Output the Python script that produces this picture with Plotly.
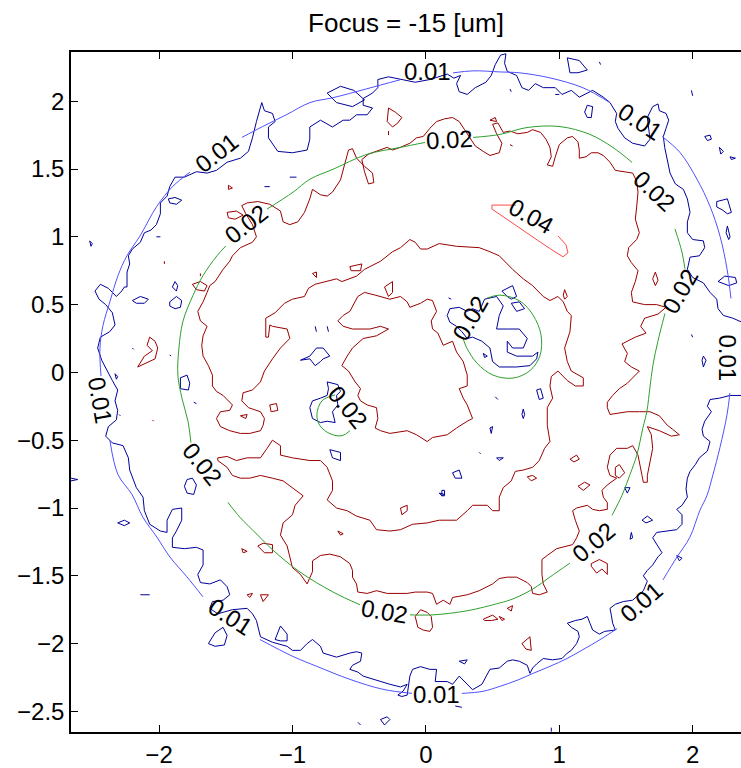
import plotly.graph_objects as go

# ---------------- smooth (fitted) contour levels ----------------
# None entries leave a gap where an inline label sits
c01_x = [0.203, 0.353, 0.555, 0.705, 0.930, 1.178, 1.380, None,
         1.770, 1.904, 2.032, 2.129, 2.204, 2.257, 2.287, None,
         2.279, 2.257, 2.204, 2.152, 2.107, 2.054, 1.979, 1.882, 1.777, None,
         1.433, 1.305, 1.178, 1.058, 0.930, 0.803, 0.683, 0.555, 0.428, 0.270, None,
         -0.104, -0.322, -0.569, -0.817, -0.996, -1.244, None,
         -1.671, -1.791, -1.918, -2.016, -2.121, -2.203, -2.308, -2.368, None,
         -2.435, -2.443, -2.420, -2.368, -2.308, -2.241, -2.143, -2.016, -1.896, -1.769, None,
         -1.379, -1.222, -1.042, -0.869, -0.696, -0.442, -0.194]
c01_y = [2.209, 2.224, 2.216, 2.209, 2.172, 2.099, 1.989, None,
         1.740, 1.623, 1.425, 1.227, 1.007, 0.765, 0.545, None,
         -0.152, -0.313, -0.555, -0.753, -0.907, -1.017, -1.215, -1.362, -1.530, None,
         -1.890, -1.971, -2.044, -2.110, -2.168, -2.220, -2.271, -2.315, -2.352, -2.367, None,
         -2.367, -2.337, -2.264, -2.168, -2.095, -1.970, None,
         -1.655, -1.508, -1.362, -1.215, -1.068, -0.900, -0.753, -0.504, None,
         -0.027, 0.178, 0.347, 0.523, 0.713, 0.860, 1.006, 1.226, 1.373, 1.476, None,
         1.733, 1.814, 1.902, 1.990, 2.026, 2.092, 2.158]

c02_x = [0.353, 0.555, 0.758, 1.005, 1.230, 1.402, 1.545, None,
         1.867, 1.919, 1.942, None,
         1.792, 1.739, 1.702, 1.679, 1.657, 1.627, 1.582, 1.530, 1.470, 1.395, None,
         1.080, 0.930, 0.803, 0.653, 0.555, 0.308, 0.053, -0.119, None,
         -0.494, -0.697, -0.944, -1.146, -1.266, -1.394, -1.484, None,
         -1.761, -1.784, -1.829, -1.859, -1.851, -1.821, -1.746, -1.671, -1.566, -1.499, None,
         -1.191, -0.996, -0.869, -0.696, -0.442, -0.194, -0.007]
c02_y = [1.733, 1.755, 1.806, 1.813, 1.755, 1.659, 1.549, None,
         1.058, 0.889, 0.764, None,
         0.435, 0.229, 0.054, -0.115, -0.284, -0.408, -0.606, -0.753, -0.907, -1.054, None,
         -1.406, -1.509, -1.597, -1.670, -1.700, -1.758, -1.788, -1.788, None,
         -1.714, -1.619, -1.472, -1.311, -1.194, -1.068, -0.958, None,
         -0.518, -0.357, -0.188, -0.020, 0.178, 0.376, 0.567, 0.713, 0.860, 0.933, None,
         1.204, 1.329, 1.425, 1.498, 1.608, 1.659, 1.696]

c02a_x = [0.459, 0.555, 0.705, 0.803, 0.863, 0.855, 0.780, 0.653, 0.503, 0.383, 0.308, 0.278]
c02a_y = [0.548, 0.570, 0.526, 0.423, 0.277, 0.123, 0.013, -0.042, -0.020, 0.068, 0.178, 0.251]

c02b_x = [-0.681, -0.779, -0.817, -0.794, -0.719, -0.629, -0.569]
c02b_y = [-0.166, -0.210, -0.313, -0.393, -0.452, -0.467, -0.430]

c04_x = [0.675, 0.495, 0.495, 0.593, 0.705, 0.855, 0.968, 1.028, 1.065, 1.050, 0.990]
c04_y = [1.234, 1.234, 1.205, 1.139, 1.058, 0.963, 0.889, 0.853, 0.882, 0.941, 1.007]

# ---------------- measured (noisy) contour at 0.01 ----------------
meas01_ring_x = [-2.24, -2.24, -2.22, -2.23, -2.20, -2.14, -2.11, -2.06, -2.02, -1.99, -1.99, -1.94, -1.92,
                 -1.88, -1.81, -1.72, -1.64, -1.57, -1.49, -1.39, -1.33, -1.30, -1.27, -1.23, -1.21, -1.15,
                 -1.13, -1.18, -1.18, -1.11, -1.00, -0.89, -0.87, -0.87, -0.79, -0.70, -0.62, -0.57, -0.52,
                 -0.44, -0.40, -0.47, -0.47, -0.40, -0.36, -0.36, -0.28, -0.19, -0.08, 0.03, 0.16, 0.21,
                 0.26, 0.23, 0.25, 0.31, 0.37, 0.45, 0.49, 0.52, 0.56, 0.60, 0.59, 0.61, 0.68, 0.72, 0.77,
                 0.82, 0.88, 0.97, 1.02, 1.09, 1.15, 1.25, 1.33, 1.38, 1.43, 1.42, 1.44, 1.49, 1.55, 1.64,
                 1.68, 1.66, 1.70, 1.74, 1.75, 1.80, 1.82, 1.80, 1.78, 1.79, 1.81, 1.83, 1.87, 1.93, 1.96,
                 1.98, 1.96, 1.96, 2.00, 2.08, 2.09, 2.05, 1.98, 1.96, 2.00, 2.08, 2.13, 2.18, 2.19, 2.23,
                 2.30, 2.37, 2.50, 2.37, 2.28, 2.20, 2.13, 2.11, 2.14, 2.09, 2.07, 2.08, 2.13, 2.11, 2.05,
                 2.02, 1.98, 1.96, 1.95, 1.96, 1.92, 1.88, 1.92, 1.92, 1.88, 1.81, 1.73, 1.70, 1.73, 1.77,
                 1.74, 1.70, 1.66, 1.63, 1.66, 1.63, 1.55, 1.48, 1.42, 1.38, 1.39, 1.40, 1.42, 1.34, 1.30,
                 1.25, 1.23, 1.21, 1.17, 1.12, 1.06, 1.09, 1.14, 1.15, 1.13, 1.09, 1.06, 1.02, 0.95, 0.88,
                 0.83, 0.80, 0.78, 0.76, 0.70, 0.65, 0.61, 0.55, 0.48, 0.44, 0.42, 0.35, 0.33, 0.25, 0.20,
                 0.16, 0.07, 0.08, 0.03, -0.04, -0.10, -0.12, -0.14, -0.18, -0.21, -0.17, -0.14, -0.19,
                 -0.27, -0.34, -0.40, -0.47, -0.51, -0.57, -0.55, -0.49, -0.48, -0.52, -0.57, -0.67, -0.77,
                 -0.79, -0.85, -0.89, -0.94, -1.00, -1.04, -1.15, -1.24, -1.27, -1.30, -1.34, -1.45, -1.56,
                 -1.62, -1.60, -1.52, -1.47, -1.49, -1.54, -1.62, -1.69, -1.71, -1.67, -1.67, -1.72, -1.81,
                 -1.90, -1.90, -1.87, -1.83, -1.83, -1.90, -1.94, -1.94, -1.99, -2.07, -2.11, -2.12, -2.17,
                 -2.22, -2.23, -2.27, -2.35, -2.40, -2.38, -2.32, -2.31, -2.33, -2.31, -2.35, -2.39, -2.43,
                 -2.46, -2.44, -2.37, -2.33, -2.35, -2.40, -2.45, -2.48, -2.44, -2.38, -2.32, -2.28, -2.26,
                 -2.24]
meas01_ring_y = [0.63, 0.74, 0.80, 0.86, 0.91, 0.96, 1.03, 1.05, 1.09, 1.17, 1.25, 1.30, 1.37,
                 1.44, 1.44, 1.48, 1.47, 1.49, 1.55, 1.58, 1.63, 1.73, 1.85, 1.99, 1.93, 1.91,
                 1.85, 1.81, 1.73, 1.63, 1.62, 1.64, 1.72, 1.81, 1.86, 1.81, 1.86, 1.86, 1.90,
                 1.90, 1.95, 1.97, 2.02, 2.06, 2.10, 2.16, 2.18, 2.16, 2.14, 2.16, 2.20, 2.17,
                 2.19, 2.13, 2.07, 2.05, 2.10, 2.14, 2.19, 2.27, 2.34, 2.35, 2.28, 2.22, 2.19, 2.10, 2.08,
                 2.13, 2.10, 2.10, 2.05, 2.08, 2.03, 2.08, 2.03, 1.99, 1.91, 1.85, 1.80, 1.73, 1.69, 1.67,
                 1.72, 1.88, 1.96, 1.98, 1.93, 1.91, 1.86, 1.80, 1.74, 1.66, 1.57, 1.47, 1.39, 1.35, 1.28,
                 1.18, 1.11, 1.03, 0.98, 0.97, 0.92, 0.86, 0.85, 0.76, 0.70, 0.66, 0.59, 0.54, 0.47, 0.42,
                 0.40, 0.37, 0.10, -0.17, -0.17, -0.19, -0.20, -0.25, -0.29, -0.36, -0.42, -0.47, -0.51, -0.58, -0.63,
                 -0.68, -0.73, -0.78, -0.86, -0.92, -0.98, -1.01, -1.05, -1.12, -1.16, -1.17, -1.18, -1.22, -1.27, -1.33,
                 -1.36, -1.42, -1.46, -1.50, -1.54, -1.61, -1.68, -1.69, -1.71, -1.74, -1.79, -1.85, -1.90, -1.91, -1.93,
                 -1.90, -1.85, -1.80, -1.82, -1.83, -1.85, -1.88, -1.91, -1.95, -2.00, -2.05, -2.07, -2.11, -2.12, -2.11,
                 -2.15, -2.18, -2.22, -2.16, -2.13, -2.12, -2.13, -2.18, -2.19, -2.27, -2.30, -2.34, -2.32, -2.24, -2.30,
                 -2.28, -2.28, -2.19, -2.19, -2.17, -2.19, -2.24, -2.38, -2.39, -2.38, -2.35, -2.30, -2.32,
                 -2.30, -2.28, -2.26, -2.24, -2.21, -2.19, -2.16, -2.13, -2.07, -2.06, -2.07, -2.10, -2.07,
                 -2.02, -1.97, -2.00, -2.05, -2.05, -2.02, -1.99, -1.95, -1.83, -1.78, -1.74, -1.75, -1.78,
                 -1.74, -1.69, -1.68, -1.64, -1.58, -1.53, -1.56, -1.55, -1.49, -1.42, -1.31, -1.29, -1.30,
                 -1.29, -1.22, -1.17, -1.09, -1.00, -1.01, -1.09, -1.18, -1.17, -1.12, -1.02, -0.92, -0.85,
                 -0.72, -0.63, -0.54, -0.52, -0.47, -0.40, -0.35, -0.28, -0.21, -0.13, -0.06, 0.01, 0.09,
                 0.18, 0.26, 0.30, 0.35, 0.44, 0.50, 0.54, 0.60, 0.65, 0.62, 0.56, 0.60, 0.63,
                 0.63]

# blob inside the small 0.02 circles
meas01_blob_a_x = [0.18, 0.25, 0.31, 0.35, 0.40, 0.44, 0.53, 0.58, 0.55, 0.53, 0.61, 0.70, 0.76, 0.73, 0.65,
                   0.61, 0.61, 0.68, 0.80, 0.84, 0.83, 0.78, 0.68, 0.55, 0.50, 0.48, 0.42, 0.35, 0.31, 0.27,
                   0.23, 0.18, 0.16, 0.18]
meas01_blob_a_y = [0.47, 0.48, 0.45, 0.47, 0.45, 0.54, 0.56, 0.49, 0.42, 0.32, 0.32, 0.32, 0.25, 0.18, 0.18,
                   0.23, 0.15, 0.12, 0.12, 0.15, 0.10, 0.05, 0.04, 0.04, 0.08, 0.18, 0.23, 0.26, 0.25, 0.30,
                   0.34, 0.37, 0.42, 0.47]
meas01_blob_b_x = [-0.74, -0.70, -0.66, -0.64, -0.67, -0.66, -0.70, -0.68, -0.74, -0.79, -0.85, -0.87, -0.85,
                   -0.79, -0.74, -0.73, -0.74]
meas01_blob_b_y = [-0.07, -0.08, -0.09, -0.14, -0.17, -0.24, -0.29, -0.37, -0.36, -0.37, -0.34, -0.26, -0.21,
                   -0.19, -0.17, -0.12, -0.07]

# small isolated 0.01 islands
meas01_islands_x = [
    [-0.74, -0.64, -0.54, -0.46, -0.55, -0.67, -0.74], [-2.52, -2.50, -2.51, -2.52],
    [-1.93, -1.88, -1.83, -1.87, -1.92, -1.93], [-2.02, -1.99], [-1.02, -0.97], [-1.21, -1.17],
    [1.06, 1.15, 1.21, 1.14, 1.08, 1.07, 1.06], [1.21, 1.25, 1.24, 1.21, 1.19, 1.21],
    [2.09, 2.13, 2.14, 2.11, 2.09], [2.20, 2.23, 2.21, 2.20], [2.28, 2.32, 2.29, 2.28],
    [2.18, 2.26, 2.29, 2.26, 2.22, 2.18, 2.18], [2.26, 2.28, 2.27, 2.25, 2.26],
    [2.19, 2.24, 2.32, 2.33, 2.27, 2.19], [1.99, 2.00], [0.97, 1.00], [0.63, 0.64], [1.30, 1.31],
    [-2.20, -2.14, -2.08, -2.11, -2.17, -2.20], [-1.92, -1.87, -1.83, -1.84, -1.88, -1.92, -1.92],
    [-1.88, -1.86, -1.87, -1.90, -1.88], [-1.84, -1.79, -1.77, -1.78, -1.84, -1.84],
    [-2.20, -2.19], [-1.92, -1.91], [-1.79, -1.75, -1.72, -1.74, -1.79, -1.81, -1.79],
    [-0.94, -0.87, -0.82, -0.77, -0.72, -0.77, -0.79, -0.83, -0.87, -0.94],
    [-0.83, -0.82], [-0.74, -0.73], [-0.72, -0.64, -0.64, -0.70, -0.72],
    [0.57, 0.65, 0.68, 0.64, 0.61, 0.57], [0.64, 0.70, 0.74, 0.68, 0.64], [0.43, 0.46, 0.44, 0.43],
    [0.83, 0.86, 0.88, 0.85, 0.83], [0.73, 0.74, 0.73, 0.72, 0.73], [0.48, 0.50, 0.49, 0.48],
    [0.53, 0.58, 0.55, 0.53], [0.20, 0.25, 0.27, 0.22, 0.20], [0.12, 0.14, 0.14, 0.12, 0.12],
    [2.08, 2.10, 2.08, 2.07, 2.08], [1.99, 2.00], [-2.31, -2.26, -2.22, -2.26, -2.31], [-2.14, -2.07],
    [-1.63, -1.58, -1.52, -1.49, -1.51, -1.58, -1.63], [-1.13, -1.09, -1.04, -1.04, -1.09, -1.13],
    [-0.34, -0.29, -0.27, -0.31, -0.34], [0.10, 0.14, 0.12, 0.10], [0.25, 0.31, 0.29, 0.25],
    [0.22, 0.27], [1.49, 1.53, 1.51, 1.49], [1.62, 1.66, 1.70, 1.65, 1.62], [1.54, 1.55, 1.53, 1.54],
    [1.88, 1.92, 1.90, 1.88], [-0.51, -0.49], [0.94, 0.94], [-2.66, -2.61, -2.66],
    [-2.33, -2.31, -2.32, -2.33], [-1.74, -1.72], [-2.30, -2.29], [0.17, 0.19], [0.52, 0.54], [0.40, 0.41],
]
meas01_islands_y = [
    [2.06, 2.11, 2.08, 2.01, 1.96, 1.99, 2.06], [0.97, 0.95, 0.93, 0.97],
    [1.28, 1.29, 1.27, 1.24, 1.25, 1.28], [1.00, 1.00], [1.44, 1.44], [1.37, 1.37],
    [2.32, 2.30, 2.23, 2.21, 2.21, 2.26, 2.32], [1.97, 1.96, 1.88, 1.88, 1.92, 1.97],
    [1.74, 1.75, 1.72, 1.71, 1.74], [1.66, 1.63, 1.61, 1.66], [1.59, 1.58, 1.57, 1.59],
    [1.26, 1.28, 1.18, 1.17, 1.20, 1.22, 1.26], [1.08, 1.00, 0.98, 1.03, 1.08],
    [0.67, 0.71, 0.70, 0.66, 0.64, 0.67], [2.08, 2.04], [2.05, 2.05], [2.09, 2.07], [2.29, 2.27],
    [0.53, 0.56, 0.54, 0.51, 0.51, 0.53], [0.52, 0.56, 0.53, 0.48, 0.47, 0.49, 0.52],
    [0.67, 0.64, 0.60, 0.63, 0.67], [-0.04, -0.02, -0.08, -0.13, -0.12, -0.04],
    [0.18, 0.17], [0.13, 0.12], [-0.79, -0.78, -0.83, -0.90, -0.89, -0.84, -0.79],
    [0.09, 0.12, 0.18, 0.18, 0.12, 0.10, 0.08, 0.05, 0.10, 0.09],
    [0.34, 0.30], [0.34, 0.30], [-0.57, -0.59, -0.65, -0.63, -0.57],
    [0.60, 0.64, 0.56, 0.54, 0.56, 0.60], [0.51, 0.52, 0.47, 0.45, 0.51], [0.14, 0.12, 0.11, 0.14],
    [-0.13, -0.12, -0.19, -0.20, -0.13], [-0.27, -0.31, -0.34, -0.31, -0.27], [-0.41, -0.40, -0.45, -0.41],
    [-0.63, -0.63, -0.65, -0.63], [-0.74, -0.72, -0.78, -0.78, -0.74], [-0.87, -0.87, -0.91, -0.91, -0.87],
    [0.12, 0.09, 0.04, 0.09, 0.12], [0.28, 0.26], [-1.11, -1.09, -1.11, -1.13, -1.11], [-1.64, -1.64],
    [-2.00, -1.92, -1.88, -1.94, -2.01, -2.02, -2.00], [-1.97, -1.87, -1.93, -1.98, -1.98, -1.97],
    [-2.56, -2.54, -2.56, -2.60, -2.56], [-0.89, -0.90, -0.91, -0.89], [-2.13, -2.12, -2.15, -2.13],
    [-2.46, -2.47], [-0.85, -0.85, -0.89, -0.85], [-1.09, -1.06, -1.09, -1.11, -1.09], [-1.18, -1.22, -1.23, -1.18],
    [-1.35, -1.37, -1.39, -1.35], [-2.58, -2.60], [-2.62, -2.65], [-0.78, -0.79, -0.80],
    [-0.01, -0.03, -0.05, -0.01], [-0.22, -0.23], [-0.31, -0.32], [0.55, 0.54], [-0.18, -0.20], [-0.59, -0.60],
]

# ---------------- measured (noisy) contour at 0.02 ----------------
meas02_main_x = [-1.38, -1.34, -1.26, -1.17, -1.09, -1.07, -1.02, -0.96, -0.91, -0.87, -0.85, -0.79, -0.74,
                 -0.70, -0.64, -0.60, -0.58, -0.55, -0.52, -0.46, -0.40, -0.39, -0.43, -0.46, -0.48, -0.43,
                 -0.37, -0.29, -0.25, -0.19, -0.12, -0.07, -0.02, 0.03, 0.08, 0.14, 0.20, 0.25, 0.29, 0.33,
                 0.37, 0.43, 0.48, 0.55, 0.57, 0.53, 0.50, 0.54, 0.58, 0.63, 0.69, 0.76, 0.80, 0.86, 0.90,
                 0.93, 0.94, 0.91, 0.95, 0.97, 1.00, 1.06, 1.10, 1.14, 1.15, 1.15, 1.20, 1.24, 1.29, 1.33,
                 1.38, 1.42, 1.49, 1.55, 1.58, 1.59, 1.58, 1.57, 1.60, 1.58, 1.52, 1.51, 1.54, 1.59, 1.57,
                 1.54, 1.55, 1.64, 1.73, 1.80, 1.74, 1.64, 1.61, 1.65, 1.57, 1.47, 1.51, 1.49, 1.54, 1.60,
                 1.55, 1.51, 1.45, 1.40, 1.36, 1.36, 1.38, 1.44, 1.51, 1.60, 1.68, 1.75, 1.81, 1.85, 1.90,
                 1.84, 1.75, 1.66, 1.69, 1.70, 1.68, 1.66, 1.66, 1.63, 1.62, 1.59, 1.55, 1.51, 1.43, 1.38,
                 1.36, 1.38, 1.43, 1.40, 1.36, 1.32, 1.33, 1.36, 1.36, 1.30, 1.25, 1.21, 1.13, 1.10, 1.12,
                 1.15, 1.13, 1.10, 1.06, 0.98, 0.91, 0.87, 0.87, 0.88, 0.91, 0.85, 0.80, 0.79, 0.76, 0.68,
                 0.61, 0.55, 0.50, 0.40, 0.31, 0.20, 0.18, 0.13, 0.08, 0.05, 0.01, -0.08, -0.14, -0.22,
                 -0.29, -0.37, -0.44, -0.51, -0.52, -0.55, -0.55, -0.57, -0.64, -0.72, -0.79, -0.85, -0.85,
                 -0.89, -0.94, -1.00, -1.02, -1.04, -1.09, -1.07, -1.00, -0.98, -0.92, -1.00, -1.07, -1.15,
                 -1.24, -1.32, -1.39, -1.45, -1.49, -1.56, -1.56, -1.49, -1.42, -1.34, -1.24, -1.19, -1.15,
                 -1.09, -1.09, -1.00, -0.87, -0.79, -0.74, -0.70, -0.70, -0.74, -0.67, -0.59, -0.52, -0.42,
                 -0.37, -0.27, -0.19, -0.10, 0.01, 0.10, 0.23, 0.31, 0.35, 0.46, 0.50, 0.55, 0.55, 0.58,
                 0.64, 0.67, 0.73, 0.80, 0.85, 0.89, 0.93, 0.91, 0.91, 0.95, 0.93, 0.94, 0.99, 1.06, 1.12,
                 1.18, 1.18, 1.09, 1.06, 1.04, 1.08, 1.09, 1.06, 1.03, 0.99, 0.93, 0.88, 0.80, 0.73, 0.65,
                 0.55, 0.48, 0.40, 0.23, 0.10, 0.01, -0.04, -0.08, -0.12, -0.19, -0.25, -0.34, -0.46, -0.52,
                 -0.57, -0.63, -0.67, -0.74, -0.83, -0.88, -0.91, -1.00, -1.06, -1.13, -1.20, -1.20, -1.18,
                 -1.17, -1.15, -1.04, -1.02, -1.09, -1.15, -1.21, -1.24, -1.30, -1.37, -1.38, -1.33, -1.24,
                 -1.21, -1.22, -1.24, -1.32, -1.39, -1.47, -1.54, -1.57, -1.54, -1.47, -1.45, -1.52, -1.57,
                 -1.60, -1.60, -1.63, -1.67, -1.68, -1.67, -1.64, -1.69, -1.71, -1.67, -1.64, -1.62, -1.58,
                 -1.52, -1.47, -1.45, -1.39, -1.30, -1.27, -1.30, -1.35, -1.38]
meas02_main_y = [1.23, 1.25, 1.26, 1.24, 1.19, 1.11, 1.09, 1.11, 1.18, 1.28, 1.35, 1.31, 1.30,
                 1.33, 1.42, 1.57, 1.64, 1.65, 1.58, 1.52, 1.47, 1.40, 1.39, 1.48, 1.57, 1.61,
                 1.63, 1.66, 1.64, 1.66, 1.69, 1.73, 1.74, 1.80, 1.85, 1.87, 1.88, 1.85, 1.79, 1.73,
                 1.67, 1.63, 1.60, 1.62, 1.69, 1.76, 1.83, 1.84, 1.77, 1.78, 1.76, 1.77, 1.79, 1.77, 1.72,
                 1.66, 1.59, 1.53, 1.52, 1.59, 1.68, 1.73, 1.74, 1.70, 1.64, 1.58, 1.59, 1.62, 1.62, 1.60,
                 1.55, 1.49, 1.48, 1.47, 1.41, 1.33, 1.22, 1.13, 1.03, 0.98, 0.92, 0.86, 0.81, 0.75, 0.67,
                 0.59, 0.52, 0.50, 0.50, 0.48, 0.43, 0.40, 0.34, 0.29, 0.26, 0.21, 0.14, 0.08, 0.04, 0.01,
                 -0.04, -0.08, -0.12, -0.17, -0.22, -0.26, -0.31, -0.30, -0.29, -0.29, -0.29, -0.32, -0.39, -0.42, -0.46,
                 -0.47, -0.43, -0.40, -0.46, -0.56, -0.65, -0.76, -0.81, -0.81, -0.76, -0.61, -0.54, -0.56, -0.56, -0.61,
                 -0.70, -0.76, -0.78, -0.80, -0.83, -0.87, -0.92, -0.96, -1.01, -1.02, -1.01, -0.98, -1.00, -1.02, -1.09,
                 -1.17, -1.22, -1.27, -1.28, -1.30, -1.35, -1.38, -1.49, -1.56, -1.62, -1.64, -1.63, -1.58, -1.55, -1.51,
                 -1.51, -1.52, -1.56, -1.61, -1.64, -1.66, -1.71, -1.68, -1.71, -1.63, -1.62, -1.62, -1.63, -1.63,
                 -1.63, -1.61, -1.63, -1.62, -1.56, -1.51, -1.46, -1.41, -1.36, -1.34, -1.35, -1.39, -1.47,
                 -1.56, -1.49, -1.44, -1.36, -1.28, -1.20, -1.11, -1.05, -0.98, -0.91, -0.85, -0.80, -0.78,
                 -0.76, -0.78, -0.78, -0.76, -0.70, -0.65, -0.63, -0.62, -0.65, -0.63, -0.63, -0.56, -0.50,
                 -0.54, -0.61, -0.63, -0.65, -0.65, -0.70, -0.80, -0.87, -0.94, -1.00, -1.02, -1.06, -1.09,
                 -1.16, -1.17, -1.16, -1.12, -1.11, -1.09, -1.09, -1.02, -0.98, -0.98, -1.02, -1.02, -0.92, -0.85,
                 -0.80, -0.73, -0.72, -0.70, -0.65, -0.56, -0.51, -0.39, -0.26, -0.19, -0.10, -0.03, 0.01, -0.06, -0.10,
                 -0.10, -0.04, 0.01, 0.08, 0.18, 0.30, 0.42, 0.45, 0.52, 0.56, 0.53, 0.56, 0.64, 0.69, 0.76,
                 0.86, 0.89, 0.92, 0.93, 0.95, 0.91, 0.91, 0.96, 0.98, 0.92, 0.89, 0.82, 0.76, 0.71,
                 0.69, 0.67, 0.69, 0.67, 0.65, 0.62, 0.56, 0.54, 0.51, 0.44, 0.40, 0.26, 0.26,
                 0.35, 0.34, 0.32, 0.25, 0.18, 0.10, 0.01, -0.07, -0.13, -0.15, -0.21, -0.26, -0.29,
                 -0.34, -0.39, -0.43, -0.45, -0.45, -0.43, -0.40, -0.34, -0.29, -0.28, -0.24, -0.17, -0.14,
                 -0.10, -0.02, 0.05, 0.12, 0.20, 0.27, 0.34, 0.38, 0.45, 0.52, 0.59, 0.64, 0.67,
                 0.76, 0.82, 0.86, 0.92, 0.96, 1.00, 1.09, 1.17, 1.23]

meas02_inner_x = [-0.14, -0.12, -0.04, 0.01, 0.05, 0.08, 0.04, 0.05, 0.09, 0.13, 0.20, 0.23, 0.28, 0.31,
                  0.31, 0.25, 0.28, 0.31, 0.35, 0.31, 0.23, 0.16, 0.05, 0.01, -0.07, -0.14, -0.27, -0.34,
                  -0.38, -0.36, -0.37, -0.44, -0.49, -0.51, -0.49, -0.53, -0.58, -0.63, -0.59, -0.55, -0.47,
                  -0.37, -0.28, -0.34, -0.42, -0.55, -0.62, -0.66, -0.62, -0.57, -0.51, -0.46, -0.38, -0.27,
                  -0.19, -0.14]
meas02_inner_y = [0.52, 0.48, 0.51, 0.54, 0.53, 0.45, 0.38, 0.32, 0.29, 0.20, 0.23, 0.15, 0.08, -0.02,
                  -0.10, -0.12, -0.19, -0.24, -0.34, -0.36, -0.41, -0.46, -0.48, -0.51, -0.46, -0.43, -0.45, -0.43,
                  -0.41, -0.34, -0.26, -0.24, -0.21, -0.17, -0.12, -0.07, 0.01, 0.05, 0.12, 0.18, 0.25,
                  0.27, 0.32, 0.34, 0.32, 0.32, 0.34, 0.38, 0.42, 0.45, 0.56, 0.59, 0.57, 0.54,
                  0.56, 0.52]

meas02_islands_x = [
    [-0.28, -0.23, -0.18, -0.21, -0.25, -0.29, -0.28], [-1.49, -1.42, -1.37, -1.43, -1.48, -1.49],
    [-1.48, -1.45, -1.48, -1.48], [-1.75, -1.69, -1.64, -1.66, -1.72, -1.75],
    [-2.16, -2.09, -2.03, -2.01, -2.03, -2.07, -2.09, -2.05, -2.11, -2.16], [-1.39, -1.34, -1.35, -1.39],
    [-1.17, -1.12, -1.11, -1.16, -1.17], [-0.31, -0.25, -0.25, -0.28, -0.31], [-0.57, -0.48, -0.49, -0.56, -0.57],
    [1.04, 1.06, 1.04, 1.03, 1.04], [1.72, 1.74, 1.72, 1.70, 1.72], [1.08, 1.13, 1.15, 1.11, 1.08],
    [0.76, 0.80, 0.83, 0.79, 0.76], [1.14, 1.19, 1.23, 1.18, 1.14], [1.42, 1.45, 1.49, 1.45, 1.42, 1.42],
    [-0.08, -0.04, 0.01, 0.04, 0.05, 0.03, -0.02, -0.06, -0.08], [0.43, 0.50, 0.54, 0.49, 0.44, 0.43],
    [0.55, 0.59, 0.57, 0.55], [0.61, 0.65, 0.64, 0.61], [0.72, 0.78, 0.79, 0.75, 0.72],
    [-0.66, -0.62, -0.64, -0.66], [-0.19, -0.14, -0.14, -0.18, -0.19],
    [1.24, 1.30, 1.36, 1.36, 1.32, 1.28, 1.24, 1.24], [-1.26, -1.22, -1.15, -1.15, -1.21, -1.26],
    [-1.38, -1.34, -1.37, -1.38], [-1.34, -1.30, -1.32, -1.34], [-1.24, -1.18, -1.22, -1.24],
    [-1.96, -1.96], [-1.69, -1.69], [-2.05, -2.04], [-0.28, -0.28], [-0.85, -0.82, -0.82, -0.85],
    [0.48, 0.52, 0.53, 0.48], [0.63, 0.65],
]
meas02_islands_y = [
    [1.95, 1.92, 1.88, 1.84, 1.81, 1.85, 1.95], [1.18, 1.19, 1.16, 1.13, 1.14, 1.18],
    [1.38, 1.36, 1.35, 1.38], [0.65, 0.67, 0.64, 0.60, 0.61, 0.65],
    [0.04, 0.07, 0.10, 0.18, 0.23, 0.26, 0.20, 0.16, 0.12, 0.04], [-0.32, -0.31, -0.34, -0.32],
    [-0.24, -0.23, -0.28, -0.29, -0.24], [0.63, 0.67, 0.59, 0.56, 0.63], [0.78, 0.80, 0.75, 0.75, 0.78],
    [0.61, 0.56, 0.54, 0.57, 0.61], [0.74, 0.68, 0.64, 0.69, 0.74], [-0.64, -0.61, -0.64, -0.66, -0.64],
    [-0.77, -0.76, -0.78, -0.80, -0.77], [-0.84, -0.81, -0.83, -0.87, -0.84], [-0.70, -0.68, -0.74, -0.78, -0.76, -0.70],
    [-1.80, -1.75, -1.77, -1.80, -1.88, -1.91, -1.90, -1.88, -1.80], [-1.82, -1.79, -1.82, -1.83, -1.83, -1.82],
    [-1.80, -1.82, -1.83, -1.80], [-1.74, -1.72, -1.76, -1.74], [-2.00, -1.95, -2.05, -2.04, -2.00],
    [-1.17, -1.19, -1.20, -1.17], [-1.00, -0.98, -1.02, -1.05, -1.00],
    [-1.41, -1.38, -1.41, -1.49, -1.45, -1.48, -1.43, -1.41], [-1.28, -1.26, -1.27, -1.33, -1.33, -1.28],
    [-1.30, -1.32, -1.33, -1.30], [-1.64, -1.63, -1.66, -1.64], [-1.64, -1.64, -1.69, -1.64],
    [0.82, 0.80], [0.73, 0.71], [-0.35, -0.36], [1.78, 1.75], [0.73, 0.74, 0.70, 0.73],
    [1.86, 1.88, 1.85, 1.86], [1.68, 1.67],
]

# ---------------- inline contour labels ----------------
lab_text = ["0.01", "0.01", "0.01", "0.02", "0.02", "0.04", "0.02", "0.02", "0.01",
            "0.01", "0.02", "0.01", "0.02", "0.01", "0.02", "0.01", "0.02", "0.02"]
lab_x = [0.013, 1.605, -1.566, -1.341, 0.180, 0.795, 1.717, 1.905, 2.262,
         -2.443, -1.671, -1.468, -0.307, 0.083, 1.253, 1.619, 0.331, -0.584]
lab_y = [2.218, 1.850, 1.623, 1.095, 1.718, 1.153, 1.336, 0.596, 0.105,
         -0.210, -0.677, -1.802, -1.765, -2.372, -1.252, -1.692, 0.398, -0.262]
lab_angle = [0, 33, -38, -38, -3, 29, 43, -60, 90,
             80, 51, 33, 10, 0, -40, -41, -60, 51]

x_ticks = [-2, -1, 0, 1, 2]
y_ticks = [-2.5, -2, -1.5, -1, -0.5, 0, 0.5, 1, 1.5, 2]

BLUE_FIT, GREEN_FIT, RED_FIT = "#5050ff", "#2ea02e", "#ff4a4a"
BLUE_MEAS, RED_MEAS = "#00009a", "#990000"


def join(parts_x, parts_y):
    xs, ys = [], []
    for px, py in zip(parts_x, parts_y):
        xs += list(px) + [None]
        ys += list(py) + [None]
    return xs, ys


fig = go.Figure()


def add_line(xs, ys, color, shape="linear"):
    fig.add_trace(go.Scatter(x=xs, y=ys, mode="lines", connectgaps=False,
                             line=dict(color=color, width=1, shape=shape),
                             hoverinfo="skip", showlegend=False))


# measured contours first, fitted ones drawn over them
bx, by = join([meas01_ring_x, meas01_blob_a_x, meas01_blob_b_x] + meas01_islands_x,
              [meas01_ring_y, meas01_blob_a_y, meas01_blob_b_y] + meas01_islands_y)
add_line(bx, by, BLUE_MEAS)
rx, ry = join([meas02_main_x, meas02_inner_x] + meas02_islands_x,
              [meas02_main_y, meas02_inner_y] + meas02_islands_y)
add_line(rx, ry, RED_MEAS)

add_line(c01_x, c01_y, BLUE_FIT, "spline")
add_line(c02_x, c02_y, GREEN_FIT, "spline")
add_line(c02a_x, c02a_y, GREEN_FIT, "spline")
add_line(c02b_x, c02b_y, GREEN_FIT, "spline")
add_line(c04_x, c04_y, RED_FIT)

for t, x, y, a in zip(lab_text, lab_x, lab_y, lab_angle):
    fig.add_annotation(x=x, y=y, text=t, textangle=a, showarrow=False,
                       font=dict(family="Liberation Sans, Arial", size=24, color="black"))

axis_common = dict(showgrid=False, zeroline=False, showline=True, linecolor="black",
                   linewidth=1.5, ticks="inside", ticklen=7, tickcolor="black",
                   tickfont=dict(family="Liberation Sans, Arial", size=24, color="black"))

fig.update_xaxes(range=[-2.660, 2.362], tickvals=x_ticks, mirror="ticks", **axis_common)
fig.update_yaxes(range=[-2.652, 2.363], tickvals=y_ticks, mirror=False, **axis_common)

fig.update_layout(
    width=741, height=768,
    margin=dict(l=71, r=0, t=52, b=32),
    paper_bgcolor="white", plot_bgcolor="white",
    title=dict(text="Focus = -15 [um]", x=0.5, xref="paper", xanchor="center",
               y=0.970, yanchor="middle",
               font=dict(family="Liberation Sans, Arial", size=26, color="black")),
)

fig.write_html("out.html")
